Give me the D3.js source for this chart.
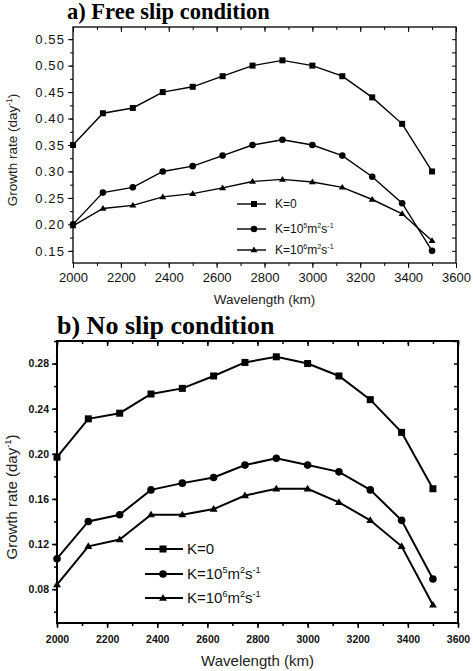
<!DOCTYPE html>
<html>
<head>
<meta charset="utf-8">
<script src="https://cdn.jsdelivr.net/npm/d3@7"></script>
<style>
  html, body { margin: 0; padding: 0; background: #fff; }
  svg { display: block; }
</style>
</head>
<body>
<svg id="chart" width="473" height="671"></svg>
<script>
// ---- data ----
const wavelength = [2000, 2125, 2250, 2375, 2500, 2625, 2750, 2875, 3000, 3125, 3250, 3375, 3500];
const freeK0 = [0.35, 0.41, 0.42, 0.45, 0.46, 0.48, 0.50, 0.51, 0.50, 0.48, 0.44, 0.39, 0.30];
const freeK5 = [0.20, 0.26, 0.27, 0.30, 0.31, 0.33, 0.35, 0.36, 0.35, 0.33, 0.29, 0.24, 0.15];
const freeK6 = [0.197, 0.23, 0.236, 0.252, 0.258, 0.269, 0.281, 0.285, 0.28, 0.27, 0.247, 0.22, 0.169];
const noK0 = [0.197, 0.231, 0.236, 0.253, 0.258, 0.269, 0.281, 0.286, 0.28, 0.269, 0.248, 0.219, 0.169];
const noK5 = [0.107, 0.14, 0.146, 0.168, 0.174, 0.179, 0.19, 0.196, 0.19, 0.184, 0.168, 0.141, 0.089];
const noK6 = [0.084, 0.118, 0.124, 0.146, 0.146, 0.151, 0.163, 0.169, 0.169, 0.157, 0.141, 0.118, 0.066];
const xTicks = [2000, 2200, 2400, 2600, 2800, 3000, 3200, 3400, 3600];
const freeYTicks = [0.15, 0.20, 0.25, 0.30, 0.35, 0.40, 0.45, 0.50, 0.55];
const noYTicks = [0.08, 0.12, 0.16, 0.20, 0.24, 0.28];
const seriesNames = ["K=0", "K=10^5", "K=10^6"];
const markerTypes = ["square", "circle", "triangle"];

const svg = d3.select("#chart");

function drawPanel(cfg) {
  const x = d3.scaleLinear().domain([2000, 3600]).range([cfg.left, cfg.right]);
  const y = d3.scaleLinear().domain(cfg.yDomain).range([cfg.bottom, cfg.top]);
  const g = svg.append("g");

  // title
  g.append("text").attr("x", cfg.titleX).attr("y", cfg.titleY)
    .attr("font-family", "'Liberation Serif', 'Times New Roman', serif")
    .attr("font-weight", "bold").attr("font-size", cfg.titleSize)
    .attr("fill", "#000").text(cfg.title);

  const xMinor = d3.range(2000, 3601, 100);
  const yMinorAll = d3.range(Math.ceil(cfg.yDomain[0] / cfg.yMinorStep - 1e-6), Math.floor(cfg.yDomain[1] / cfg.yMinorStep + 1e-6) + 1)
      .map(k => +(k * cfg.yMinorStep).toFixed(4));

  const tickStyle = sel => {
    sel.select(".domain").attr("stroke", "#000").attr("stroke-width", cfg.axisW);
    sel.selectAll(".tick line").attr("stroke", "#000").attr("stroke-width", cfg.tickW);
  };

  // minor ticks (bottom outward, top inward, left outward, right inward)
  g.append("g").attr("transform", `translate(0,${cfg.bottom})`)
    .call(d3.axisBottom(x).tickValues(xMinor).tickSize(3).tickFormat(""))
    .call(tickStyle).call(s => s.select(".domain").remove());
  g.append("g").attr("transform", `translate(0,${cfg.top})`)
    .call(d3.axisBottom(x).tickValues(xMinor).tickSize(3).tickFormat(""))
    .call(tickStyle).call(s => s.select(".domain").remove());
  g.append("g").attr("transform", `translate(${cfg.left},0)`)
    .call(d3.axisLeft(y).tickValues(yMinorAll).tickSize(3).tickFormat(""))
    .call(tickStyle).call(s => s.select(".domain").remove());
  g.append("g").attr("transform", `translate(${cfg.right},0)`)
    .call(d3.axisLeft(y).tickValues(yMinorAll).tickSize(4).tickFormat(""))
    .call(tickStyle).call(s => s.select(".domain").remove());

  // major ticks with labels
  const xa = g.append("g").attr("transform", `translate(0,${cfg.bottom})`)
    .call(d3.axisBottom(x).tickValues(xTicks).tickSize(5).tickSizeOuter(0).tickPadding(cfg.xPad).tickFormat(d3.format("d")))
    .call(tickStyle);
  xa.selectAll(".tick text").attr("font-family", "'Liberation Sans', Arial, sans-serif")
    .attr("font-size", cfg.tickFont).attr("font-weight", cfg.tickWeight).attr("fill", "#111");
  xa.select(".domain").remove();

  g.append("g").attr("transform", `translate(0,${cfg.top})`)
    .call(d3.axisBottom(x).tickValues(xTicks).tickSize(5).tickFormat(""))
    .call(tickStyle).call(s => s.select(".domain").remove());

  const ya = g.append("g").attr("transform", `translate(${cfg.left},0)`)
    .call(d3.axisLeft(y).tickValues(cfg.yTicks).tickSize(5).tickSizeOuter(0).tickPadding(3).tickFormat(d3.format(".2f")))
    .call(tickStyle);
  ya.selectAll(".tick text").attr("font-family", "'Liberation Sans', Arial, sans-serif")
    .attr("font-size", cfg.tickFont).attr("font-weight", cfg.tickWeight)
    .attr("letter-spacing", cfg.yLetter).attr("fill", "#111");
  ya.select(".domain").remove();

  // frame
  g.append("rect").attr("x", cfg.left).attr("y", cfg.top)
    .attr("width", cfg.right - cfg.left).attr("height", cfg.bottom - cfg.top)
    .attr("fill", "none").attr("stroke", "#000").attr("stroke-width", cfg.axisW);

  // axis labels
  g.append("text").attr("x", (cfg.left + cfg.right) / 2).attr("y", cfg.xLabelY)
    .attr("text-anchor", "middle")
    .attr("font-family", "'Liberation Sans', Arial, sans-serif")
    .attr("font-size", cfg.labelFont).attr("fill", "#222").text("Wavelength (km)");

  const yl = g.append("text")
    .attr("transform", `translate(${cfg.yLabelX},${cfg.yLabelY}) rotate(-90)`)
    .attr("text-anchor", "middle")
    .attr("font-family", "'Liberation Sans', Arial, sans-serif")
    .attr("font-size", cfg.labelFont).attr("fill", "#222");
  yl.append("tspan").text("Growth rate (day");
  yl.append("tspan").attr("dy", -cfg.labelFont * 0.4).attr("font-size", cfg.labelFont * 0.62).text("-1");
  yl.append("tspan").attr("dy", cfg.labelFont * 0.4).text(")");

  // series
  const line = d3.line().x((d, i) => x(wavelength[i])).y(d => y(d));
  const marker = (sel, type, cx, cy, s) => {
    if (type === "square") {
      sel.append("rect").attr("x", cx - s / 2).attr("y", cy - s / 2).attr("width", s).attr("height", s).attr("fill", "#000");
    } else if (type === "circle") {
      sel.append("circle").attr("cx", cx).attr("cy", cy).attr("r", s / 2 + 0.3).attr("fill", "#000");
    } else {
      const h = s * 0.95;
      sel.append("path").attr("d", `M${cx},${cy - h * 0.6} L${cx + s / 2 + 0.5},${cy + h * 0.4} L${cx - s / 2 - 0.5},${cy + h * 0.4} Z`).attr("fill", "#000");
    }
  };

  cfg.series.forEach((vals, si) => {
    g.append("path").datum(vals).attr("d", line)
      .attr("fill", "none").attr("stroke", "#000").attr("stroke-width", cfg.lineW);
    const mg = g.append("g");
    vals.forEach((v, i) => marker(mg, markerTypes[si], x(wavelength[i]), y(v), cfg.markerSize));
  });

  // legend
  seriesNames.forEach((name, si) => {
    const ly = cfg.legendY[si];
    g.append("line").attr("x1", cfg.legX1).attr("x2", cfg.legX2).attr("y1", ly).attr("y2", ly)
      .attr("stroke", "#000").attr("stroke-width", cfg.lineW);
    marker(g, markerTypes[si], cfg.legM, ly, cfg.markerSize);
    const t = g.append("text").attr("x", cfg.legText).attr("y", ly + cfg.legFont * 0.36)
      .attr("font-family", "'Liberation Sans', Arial, sans-serif")
      .attr("font-size", cfg.legFont).attr("fill", "#111");
    if (si === 0) {
      t.text("K=0");
    } else {
      const exp = si === 1 ? "5" : "6";
      const sup = cfg.legFont * 0.6, up = cfg.legFont * 0.42;
      t.append("tspan").text("K=10");
      t.append("tspan").attr("dy", -up).attr("font-size", sup).text(exp);
      t.append("tspan").attr("dy", up).text("m");
      t.append("tspan").attr("dy", -up).attr("font-size", sup).text("2");
      t.append("tspan").attr("dy", up).text("s");
      t.append("tspan").attr("dy", -up).attr("font-size", sup).text("-1");
    }
  });
}

drawPanel({
  title: "a) Free slip condition", titleX: 67, titleY: 19, titleSize: 22.5,
  left: 73, right: 456, top: 27, bottom: 263,
  yDomain: [0.127, 0.573], yTicks: freeYTicks, yMinorStep: 0.025,
  axisW: 1.3, tickW: 1, lineW: 1.4, markerSize: 6,
  tickFont: 13, tickWeight: "normal", yLetter: 1.1, xPad: 5,
  labelFont: 13.5, xLabelY: 304, yLabelX: 17, yLabelY: 150,
  series: [freeK0, freeK5, freeK6],
  legendY: [204, 229, 250], legX1: 237, legX2: 266, legM: 254, legText: 275, legFont: 12
});

drawPanel({
  title: "b) No slip condition", titleX: 57, titleY: 334, titleSize: 26,
  left: 57, right: 458, top: 341, bottom: 623,
  yDomain: [0.05, 0.30], yTicks: noYTicks, yMinorStep: 0.02,
  axisW: 2, tickW: 1.5, lineW: 2, markerSize: 7,
  tickFont: 10.5, tickWeight: "bold", yLetter: 0, xPad: 8,
  labelFont: 15, xLabelY: 666, yLabelX: 17, yLabelY: 497,
  series: [noK0, noK5, noK6],
  legendY: [549, 574, 598], legX1: 145, legX2: 183, legM: 163, legText: 187, legFont: 15
});
</script>
</body>
</html>
